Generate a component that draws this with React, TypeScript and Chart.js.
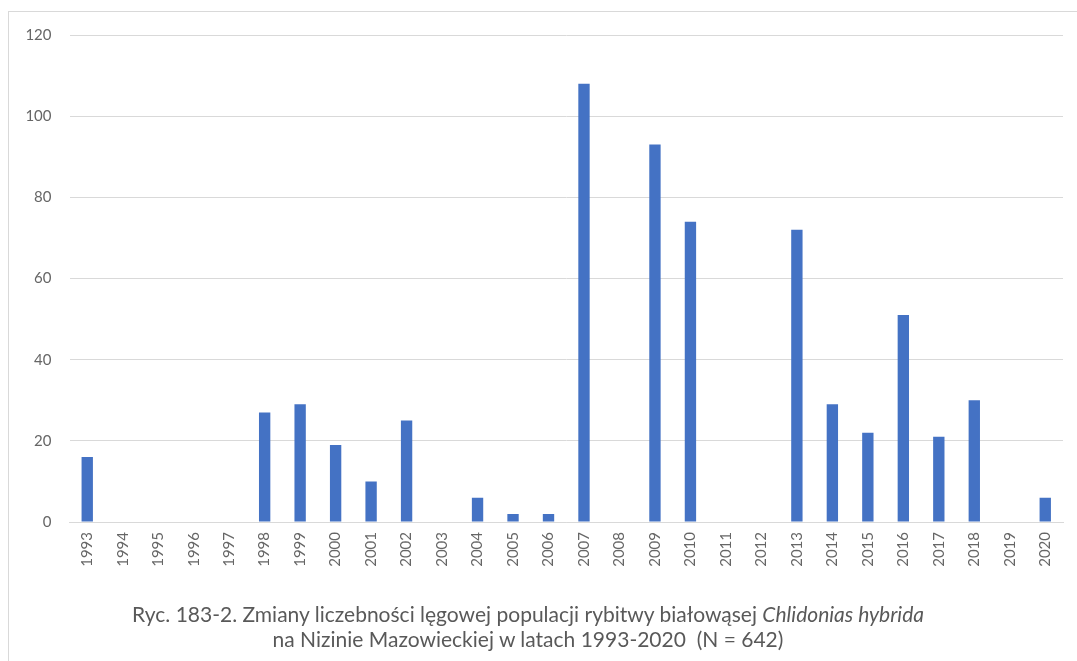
import React, { useEffect, useRef } from "react";
import { Chart, registerables } from "chart.js";

Chart.register(...registerables);

const years: string[] = [
  "1993", "1994", "1995", "1996", "1997", "1998", "1999", "2000", "2001", "2002",
  "2003", "2004", "2005", "2006", "2007", "2008", "2009", "2010", "2011", "2012",
  "2013", "2014", "2015", "2016", "2017", "2018", "2019", "2020",
];

const pairs: number[] = [
  16, 0, 0, 0, 0, 27, 29, 19, 10, 25,
  0, 6, 2, 2, 108, 0, 93, 74, 0, 0,
  72, 29, 22, 51, 21, 30, 0, 6,
];

const yTicks: number[] = [0, 20, 40, 60, 80, 100, 120];

const captionLine1 = "Ryc. 183-2. Zmiany liczebności lęgowej populacji rybitwy białowąsej ";
const captionLatin = "Chlidonias hybrida";
const captionLine2 = "na Nizinie Mazowieckiej w latach 1993-2020  (N = 642)";

export default function App() {
  const ref = useRef<HTMLCanvasElement | null>(null);

  useEffect(() => {
    if (!ref.current) return;
    const chart = new Chart(ref.current, {
      type: "bar",
      data: {
        labels: years,
        datasets: [
          {
            data: pairs,
            backgroundColor: "#4472C4",
            borderWidth: 0,
            categoryPercentage: 1,
            barPercentage: 0.32,
          },
        ],
      },
      options: {
        animation: false,
        responsive: false,
        maintainAspectRatio: false,
        layout: { padding: { left: 0, right: 14, top: 35, bottom: 0 } },
        plugins: {
          legend: { display: false },
          tooltip: { enabled: false },
          title: { display: false },
        },
        scales: {
          x: {
            grid: { display: false, drawTicks: false },
            border: { display: true, color: "#d9d9d9", width: 1 },
            ticks: {
              minRotation: 90,
              maxRotation: 90,
              autoSkip: false,
              padding: 10,
              color: "#666666",
              font: { family: "Lato, 'Open Sans', sans-serif", size: 15 },
            },
            afterFit: (s: any) => {
              s.height = 139;
            },
          },
          y: {
            min: 0,
            max: 120,
            afterBuildTicks: (s: any) => {
              s.ticks = yTicks.map((v) => ({ value: v }));
            },
            grid: { color: "#d9d9d9", drawTicks: false, lineWidth: 1 },
            border: { display: false },
            ticks: {
              padding: 18,
              color: "#666666",
              font: { family: "Lato, 'Open Sans', sans-serif", size: 15 },
            },
            afterFit: (s: any) => {
              s.width = 69.5;
            },
          },
        },
      },
    });
    return () => chart.destroy();
  }, []);

  return (
    <div
      style={{
        position: "fixed",
        left: 0,
        top: 0,
        width: 1077,
        height: 661,
        background: "#ffffff",
        overflow: "hidden",
      }}
    >
      <div
        style={{
          position: "absolute",
          left: 8,
          top: 11,
          width: 1100,
          height: 700,
          borderTop: "1px solid #d9d9d9",
          borderLeft: "1px solid #d9d9d9",
        }}
      />
      <canvas
        ref={ref}
        width={1077}
        height={661}
        style={{ position: "absolute", left: 0, top: 0, width: 1077, height: 661 }}
      />
      <div
        style={{
          position: "absolute",
          left: 28,
          width: 1000,
          top: 601,
          textAlign: "center",
          fontFamily: "Lato, 'Open Sans', sans-serif",
          fontSize: 21,
          lineHeight: "25px",
          color: "#595959",
          whiteSpace: "pre",
        }}
      >
        <div>
          {captionLine1}
          <i>{captionLatin}</i>
        </div>
        <div>{captionLine2}</div>
      </div>
    </div>
  );
}
